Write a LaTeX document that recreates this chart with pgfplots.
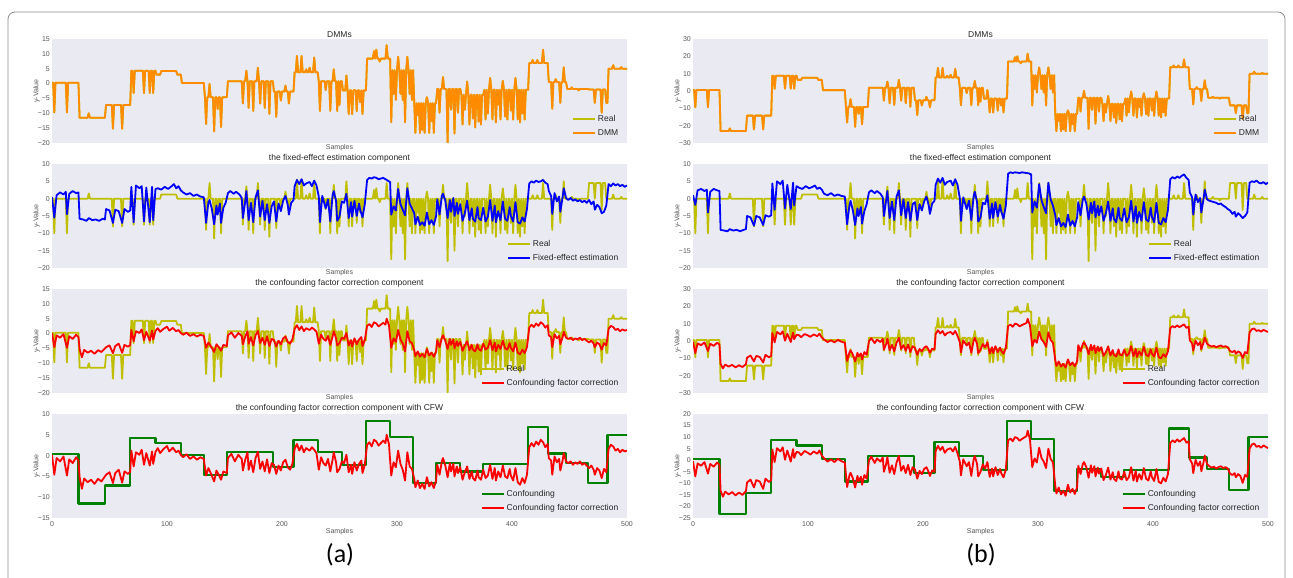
\documentclass[border=0pt]{standalone}
\usepackage{pgfplots}
\pgfplotsset{compat=1.18}
\usepackage{pgfplotstable}
\usepackage{fontspec}
\setmainfont{Liberation Sans}
\newfontfamily\capfont{Carlito}
\definecolor{bgc}{HTML}{EAEAF2}
\definecolor{realc}{HTML}{BFBF00}
\definecolor{dmmc}{HTML}{FF8C00}
\definecolor{confc}{HTML}{008000}
\definecolor{txtc}{HTML}{262626}
\definecolor{tickc}{HTML}{555555}

\pgfplotstableread[row sep=\\]{x y\\
0 0\\1 0\\2 -10\\3 0\\12 0\\13 -10\\14 0\\31 0\\32 1.5\\33 0\\52 0\\53 -8\\54 0\\60 0\\61 -8\\62 0\\70 0\\71 -7.5\\72 0\\79 0\\80 -7.5\\81 0\\84 0\\85 -7.5\\86 0\\87 0\\88 -7.5\\89 0\\94 0\\95 1.2\\108 1.2\\109 0\\133 0\\134 -9\\135 0\\136 0\\137 4.5\\138 0\\140 0\\141 -11.5\\142 0\\143 0\\144 -4\\145 0\\146 0\\147 -10\\148 0\\165 0\\166 -7.5\\167 0\\168 0\\169 3.5\\170 0\\171 -9\\172 0\\174 0\\175 -10\\176 0\\178 0\\179 4.5\\180 0\\181 -7.5\\182 0\\184 0\\185 -9\\186 0\\188 0\\189 -11\\190 0\\194 0\\195 -8.5\\196 0\\198 0\\199 -3\\200 0\\202 0\\203 2\\204 0\\205 0\\206 -4\\207 0\\212 0\\213 5.5\\214 0\\216 0\\217 5.5\\218 0\\220 0\\221 1\\222 0\\223 0\\224 1.5\\225 0\\227 0\\228 5\\229 0\\232 0\\233 -10\\234 0\\237 0\\238 -3\\239 0\\241 0\\242 -10\\243 0\\244 0\\245 4\\246 0\\247 0\\248 -10\\249 0\\250 -8\\251 0\\255 0\\256 5\\257 0\\258 -8\\259 0\\260 0\\261 -8\\262 0\\264 0\\265 -7\\266 0\\267 0\\268 -4\\269 0\\270 -8\\271 0\\279 0\\280 2.5\\281 0\\282 3\\283 0\\284 0\\285 -1\\286 0\\290 0\\291 4.5\\292 0\\294 0\\295 -17.5\\296 0\\297 -8\\298 0\\299 -10\\300 0\\301 4.5\\302 0\\303 -8\\304 0\\305 -10\\306 0\\307 -17.5\\308 0\\309 4.5\\310 0\\311 -8\\312 0\\313 -10\\314 0\\315 0\\316 -10\\317 0\\318 -4\\319 0\\320 -10\\321 0\\322 -9\\323 0\\324 -10\\325 0\\326 2\\327 0\\328 -10\\329 0\\330 -6\\331 0\\332 -10\\333 0\\336 0\\337 -8\\338 0\\339 0\\340 4\\341 0\\343 0\\344 -18\\345 0\\346 0\\347 -7\\348 0\\349 0\\350 -15\\351 0\\352 0\\353 -8\\354 0\\356 0\\357 -10\\358 0\\359 -5\\360 0\\361 4.5\\362 0\\363 -10\\364 0\\365 0\\366 -8\\367 0\\368 -11\\369 0\\370 0\\371 -9\\372 0\\373 -10\\374 0\\376 0\\377 -10\\378 0\\379 -8\\380 0\\381 4\\382 0\\383 -10\\384 0\\385 0\\386 -11\\387 0\\388 -5\\389 0\\390 -10\\391 0\\392 3\\393 0\\394 -9\\395 0\\396 -10\\397 0\\398 0\\399 -7\\400 0\\401 -10\\402 0\\403 4\\404 0\\405 -10\\406 0\\407 -11\\408 0\\409 -8\\410 0\\411 -10\\412 0\\417 0\\418 1\\419 0\\421 0\\422 1\\423 0\\426 0\\427 4.5\\428 0\\434 0\\435 -9\\436 0\\437 0\\438 1\\439 0\\441 0\\442 -7\\443 0\\444 0\\445 5\\446 0\\451 0\\452 0.5\\453 0\\457 0\\458 -0.5\\459 0\\466 0\\467 4.5\\471 4.5\\472 0\\473 4.5\\477 4.5\\478 -3.3\\479 4.5\\481 4.5\\482 0\\487 0\\488 1.2\\489 0\\494 0\\495 0.5\\496 0\\500 0\\
}\tF

\pgfplotstableread[row sep=\\]{x y\\
0 0.3\\1 0.3\\2 -9.7\\3 0.3\\12 0.3\\13 -9.7\\14 0.3\\23 0.3\\
24 -11.5\\31 -11.5\\32 -10\\33 -11.5\\46 -11.5\\
47 -7.2\\52 -7.2\\53 -15.2\\54 -7.2\\60 -7.2\\61 -15.2\\62 -7.2\\68 -7.2\\
69 4.3\\70 4.3\\71 -3.2\\72 4.3\\79 4.3\\80 -3.2\\81 4.3\\84 4.3\\85 -3.2\\86 4.3\\87 4.3\\88 -3.2\\89 4.3\\90 4.3\\
91 3\\94 3\\95 4.2\\108 4.2\\109 3\\112 3\\
113 0.2\\132 0.2\\
133 -4.6\\134 -13.6\\135 -4.6\\136 -4.6\\137 -0.1\\138 -4.6\\140 -4.6\\141 -16.1\\142 -4.6\\143 -4.6\\144 -8.6\\145 -4.6\\146 -4.6\\147 -14.6\\148 -4.6\\152 -4.6\\
153 0.8\\165 0.8\\166 -6.7\\167 0.8\\168 0.8\\169 4.3\\170 0.8\\171 -8.2\\172 0.8\\174 0.8\\175 -9.2\\176 0.8\\178 0.8\\179 5.3\\180 0.8\\181 -6.7\\182 0.8\\184 0.8\\185 -8.2\\186 0.8\\188 0.8\\189 -10.2\\190 0.8\\192 0.8\\
193 -2.7\\194 -2.7\\195 -11.2\\196 -2.7\\198 -2.7\\199 -5.7\\200 -2.7\\202 -2.7\\203 -0.7\\204 -2.7\\205 -2.7\\206 -6.7\\207 -2.7\\210 -2.7\\
211 3.8\\212 3.8\\213 9.3\\214 3.8\\216 3.8\\217 9.3\\218 3.8\\220 3.8\\221 4.8\\222 3.8\\223 3.8\\224 5.3\\225 3.8\\227 3.8\\228 8.8\\229 3.8\\231 3.8\\
232 0.8\\233 -9.2\\234 0.8\\237 0.8\\238 -2.2\\239 0.8\\241 0.8\\242 -9.2\\243 0.8\\244 0.8\\245 4.8\\246 0.8\\247 0.8\\248 -9.2\\249 0.8\\250 -7.2\\251 0.8\\252 0.8\\
253 -2.3\\255 -2.3\\256 2.7\\257 -2.3\\258 -10.3\\259 -2.3\\260 -2.3\\261 -10.3\\262 -2.3\\264 -2.3\\265 -9.3\\266 -2.3\\267 -2.3\\268 -6.3\\269 -2.3\\270 -10.3\\271 -2.3\\273 -2.3\\
274 8.4\\279 8.4\\280 10.9\\281 8.4\\282 11.4\\283 8.4\\284 8.4\\285 7.4\\286 8.4\\290 8.4\\291 12.9\\292 8.4\\294 8.4\\
295 -13\\296 4.5\\297 -3.5\\298 4.5\\299 -5.5\\300 4.5\\301 9\\302 4.5\\303 -3.5\\304 4.5\\305 -5.5\\306 4.5\\307 -13\\308 4.5\\309 9\\310 4.5\\311 -3.5\\312 4.5\\313 -5.5\\314 4.5\\
315 -6.6\\316 -16.6\\317 -6.6\\318 -10.6\\319 -6.6\\320 -16.6\\321 -6.6\\322 -15.6\\323 -6.6\\324 -16.6\\325 -6.6\\326 -4.6\\327 -6.6\\328 -16.6\\329 -6.6\\330 -12.6\\331 -6.6\\332 -16.6\\333 -6.6\\334 -6.6\\
335 -1.8\\336 -1.8\\337 -9.8\\338 -1.8\\339 -1.8\\340 2.2\\341 -1.8\\343 -1.8\\344 -19.8\\345 -1.8\\346 -1.8\\347 -8.8\\348 -1.8\\349 -1.8\\350 -16.8\\351 -1.8\\352 -1.8\\353 -9.8\\354 -1.8\\355 -1.8\\
356 -3.8\\357 -13.8\\358 -3.8\\359 -8.8\\360 -3.8\\361 0.7\\362 -3.8\\363 -13.8\\364 -3.8\\365 -3.8\\366 -11.8\\367 -3.8\\368 -14.8\\369 -3.8\\370 -3.8\\371 -12.8\\372 -3.8\\373 -13.8\\374 -3.8\\375 -3.8\\
376 -2.1\\377 -12.1\\378 -2.1\\379 -10.1\\380 -2.1\\381 1.9\\382 -2.1\\383 -12.1\\384 -2.1\\385 -2.1\\386 -13.1\\387 -2.1\\388 -7.1\\389 -2.1\\390 -12.1\\391 -2.1\\392 0.9\\393 -2.1\\394 -11.1\\395 -2.1\\396 -12.1\\397 -2.1\\398 -2.1\\399 -9.1\\400 -2.1\\401 -12.1\\402 -2.1\\403 1.9\\404 -2.1\\405 -12.1\\406 -2.1\\407 -13.1\\408 -2.1\\409 -10.1\\410 -2.1\\411 -12.1\\412 -2.1\\414 -2.1\\
415 6.9\\417 6.9\\418 7.9\\419 6.9\\421 6.9\\422 7.9\\423 6.9\\426 6.9\\427 11.4\\428 6.9\\431 6.9\\
432 0.5\\434 0.5\\435 -8.5\\436 0.5\\437 0.5\\438 1.5\\439 0.5\\441 0.5\\442 -6.5\\443 0.5\\444 0.5\\445 5.5\\446 0.5\\447 0.5\\
448 -1.8\\451 -1.8\\452 -1.3\\453 -1.8\\457 -1.8\\458 -2.3\\459 -1.8\\466 -1.8\\
467 -2\\471 -2\\472 -6.5\\473 -2\\477 -2\\478 -9.8\\479 -2\\481 -2\\482 -6.5\\483 -6.5\\
484 5\\487 5\\488 6.2\\489 5\\494 5\\495 5.5\\496 5\\500 5\\
}\tRa

\pgfplotstableread[row sep=\\]{x y\\
0 0.6\\1 0.6\\2 -9.4\\3 0.6\\12 0.6\\13 -9.4\\14 0.6\\23 0.6\\
24 -23.1\\31 -23.1\\32 -21.6\\33 -23.1\\46 -23.1\\
47 -14.2\\52 -14.2\\53 -22.2\\54 -14.2\\60 -14.2\\61 -22.2\\62 -14.2\\68 -14.2\\
69 8.8\\70 8.8\\71 1.3\\72 8.8\\79 8.8\\80 1.3\\81 8.8\\84 8.8\\85 1.3\\86 8.8\\87 8.8\\88 1.3\\89 8.8\\90 8.8\\
91 6.4\\94 6.4\\95 7.6\\108 7.6\\109 6.4\\112 6.4\\
113 0.5\\132 0.5\\
133 -9.2\\134 -18.2\\135 -9.2\\136 -9.2\\137 -4.7\\138 -9.2\\140 -9.2\\141 -20.7\\142 -9.2\\143 -9.2\\144 -13.2\\145 -9.2\\146 -9.2\\147 -19.2\\148 -9.2\\152 -9.2\\
153 1.9\\165 1.9\\166 -5.6\\167 1.9\\168 1.9\\169 5.4\\170 1.9\\171 -7.1\\172 1.9\\174 1.9\\175 -8.1\\176 1.9\\178 1.9\\179 6.4\\180 1.9\\181 -5.6\\182 1.9\\184 1.9\\185 -7.1\\186 1.9\\188 1.9\\189 -9.1\\190 1.9\\192 1.9\\
193 -5.4\\194 -5.4\\195 -13.9\\196 -5.4\\198 -5.4\\199 -8.4\\200 -5.4\\202 -5.4\\203 -3.4\\204 -5.4\\205 -5.4\\206 -9.4\\207 -5.4\\210 -5.4\\
211 7.8\\212 7.8\\213 13.3\\214 7.8\\216 7.8\\217 13.3\\218 7.8\\220 7.8\\221 8.8\\222 7.8\\223 7.8\\224 9.3\\225 7.8\\227 7.8\\228 12.8\\229 7.8\\231 7.8\\
232 1.8\\233 -8.2\\234 1.8\\237 1.8\\238 -1.2\\239 1.8\\241 1.8\\242 -8.2\\243 1.8\\244 1.8\\245 5.8\\246 1.8\\247 1.8\\248 -8.2\\249 1.8\\250 -6.2\\251 1.8\\252 1.8\\
253 -4.4\\255 -4.4\\256 0.6\\257 -4.4\\258 -12.4\\259 -4.4\\260 -4.4\\261 -12.4\\262 -4.4\\264 -4.4\\265 -11.4\\266 -4.4\\267 -4.4\\268 -8.4\\269 -4.4\\270 -12.4\\271 -4.4\\273 -4.4\\
274 17\\279 17\\280 19.5\\281 17\\282 20\\283 17\\284 17\\285 16\\286 17\\290 17\\291 21.5\\292 17\\294 17\\
295 -8.4\\296 9.1\\297 1.1\\298 9.1\\299 -0.9\\300 9.1\\301 13.6\\302 9.1\\303 1.1\\304 9.1\\305 -0.9\\306 9.1\\307 -8.4\\308 9.1\\309 13.6\\310 9.1\\311 1.1\\312 9.1\\313 -0.9\\314 9.1\\
315 -13.2\\316 -23.2\\317 -13.2\\318 -17.2\\319 -13.2\\320 -23.2\\321 -13.2\\322 -22.2\\323 -13.2\\324 -23.2\\325 -13.2\\326 -11.2\\327 -13.2\\328 -23.2\\329 -13.2\\330 -19.2\\331 -13.2\\332 -23.2\\333 -13.2\\334 -13.2\\
335 -3.9\\336 -3.9\\337 -11.9\\338 -3.9\\339 -3.9\\340 0.1\\341 -3.9\\343 -3.9\\344 -21.9\\345 -3.9\\346 -3.9\\347 -10.9\\348 -3.9\\349 -3.9\\350 -18.9\\351 -3.9\\352 -3.9\\353 -11.9\\354 -3.9\\355 -3.9\\
356 -7.4\\357 -17.4\\358 -7.4\\359 -12.4\\360 -7.4\\361 -2.9\\362 -7.4\\363 -17.4\\364 -7.4\\365 -7.4\\366 -15.4\\367 -7.4\\368 -18.4\\369 -7.4\\370 -7.4\\371 -16.4\\372 -7.4\\373 -17.4\\374 -7.4\\375 -7.4\\
376 -4.3\\377 -14.3\\378 -4.3\\379 -12.3\\380 -4.3\\381 -0.3\\382 -4.3\\383 -14.3\\384 -4.3\\385 -4.3\\386 -15.3\\387 -4.3\\388 -9.3\\389 -4.3\\390 -14.3\\391 -4.3\\392 -1.3\\393 -4.3\\394 -13.3\\395 -4.3\\396 -14.3\\397 -4.3\\398 -4.3\\399 -11.3\\400 -4.3\\401 -14.3\\402 -4.3\\403 -0.3\\404 -4.3\\405 -14.3\\406 -4.3\\407 -15.3\\408 -4.3\\409 -12.3\\410 -4.3\\411 -14.3\\412 -4.3\\414 -4.3\\
415 13.7\\417 13.7\\418 14.7\\419 13.7\\421 13.7\\422 14.7\\423 13.7\\426 13.7\\427 18.2\\428 13.7\\431 13.7\\
432 1.2\\434 1.2\\435 -7.8\\436 1.2\\437 1.2\\438 2.2\\439 1.2\\441 1.2\\442 -5.8\\443 1.2\\444 1.2\\445 6.2\\446 1.2\\447 1.2\\
448 -3.9\\451 -3.9\\452 -3.4\\453 -3.9\\457 -3.9\\458 -4.4\\459 -3.9\\466 -3.9\\
467 -8.3\\471 -8.3\\472 -12.8\\473 -8.3\\477 -8.3\\478 -16.1\\479 -8.3\\481 -8.3\\482 -12.8\\483 -12.8\\
484 9.9\\487 9.9\\488 11.1\\489 9.9\\494 9.9\\495 10.4\\496 9.9\\500 9.9\\
}\tRb

\pgfplotstableread[row sep=\\]{x y\\
0 0.3\\23 0.3\\23 -11.5\\46 -11.5\\46 -7.2\\68 -7.2\\68 4.3\\90 4.3\\90 3.0\\112 3.0\\112 0.2\\132 0.2\\132 -4.6\\152 -4.6\\152 0.8\\192 0.8\\192 -2.7\\210 -2.7\\210 3.8\\231 3.8\\231 0.8\\252 0.8\\252 -2.3\\273 -2.3\\273 8.4\\294 8.4\\294 4.5\\314 4.5\\314 -6.6\\334 -6.6\\334 -1.8\\355 -1.8\\355 -3.8\\375 -3.8\\375 -2.1\\414 -2.1\\414 6.9\\431 6.9\\431 0.5\\447 0.5\\447 -1.8\\466 -1.8\\466 -6.5\\483 -6.5\\483 5.0\\500 5.0\\
}\tCa

\pgfplotstableread[row sep=\\]{x y\\
0 0.6\\23 0.6\\23 -23.1\\46 -23.1\\46 -14.2\\68 -14.2\\68 8.8\\90 8.8\\90 6.4\\112 6.4\\112 0.5\\132 0.5\\132 -9.2\\152 -9.2\\152 1.9\\192 1.9\\192 -5.4\\210 -5.4\\210 7.8\\231 7.8\\231 1.8\\252 1.8\\252 -4.4\\273 -4.4\\273 17.0\\294 17.0\\294 9.1\\314 9.1\\314 -13.2\\334 -13.2\\334 -3.9\\355 -3.9\\355 -7.4\\375 -7.4\\375 -4.3\\414 -4.3\\414 13.7\\431 13.7\\431 1.2\\447 1.2\\447 -3.9\\466 -3.9\\466 -12.8\\483 -12.8\\483 9.9\\500 9.9\\
}\tCb

\pgfplotstableread[row sep=\\]{x y\\
0 0.2\\2 -4.6\\4 -0.6\\7 -1.4\\10 -0.2\\13 -4.8\\15 -0.9\\18 -1.8\\21 -0.4\\23 -1.2\\
24 -5.2\\26 -8.0\\28 -5.5\\31 -6.4\\34 -5.8\\37 -6.8\\40 -5.6\\43 -6.2\\46 -5.0\\
47 -4.6\\50 -4.0\\53 -6.6\\55 -4.2\\58 -3.4\\61 -6.5\\63 -3.8\\66 -4.4\\68 -3.9\\
69 1.2\\71 -2.6\\73 0.8\\76 0.2\\78 1.4\\80 -2.2\\82 0.6\\85 -2.4\\87 1.0\\88 -2.0\\90 0.9\\
92 1.8\\94 0.6\\97 1.6\\100 2.3\\102 1.0\\105 1.9\\108 0.8\\110 1.2\\112 0.2\\
114 -0.4\\117 0.3\\120 -0.8\\123 -0.2\\126 -1.0\\129 -0.4\\132 -0.8\\
134 -4.8\\136 -3.0\\138 -4.2\\141 -6.2\\143 -3.6\\145 -4.6\\147 -5.8\\149 -3.8\\152 -4.2\\
153 -0.6\\156 0.4\\159 -1.4\\162 0.2\\165 -0.8\\166 -3.6\\168 -1.0\\170 0.8\\171 -3.4\\173 -1.2\\175 -4.0\\177 -0.6\\179 0.9\\181 -3.2\\183 -1.4\\185 -3.8\\187 -0.9\\189 -4.2\\191 -1.8\\
193 -2.2\\195 -4.4\\197 -2.4\\199 -3.6\\201 -1.6\\203 -1.0\\205 -2.8\\207 -3.4\\209 -2.0\\
211 1.6\\213 2.8\\215 1.2\\217 2.4\\219 0.8\\221 1.8\\224 1.2\\226 2.0\\228 1.4\\230 0.6\\
232 -3.4\\234 -0.4\\236 -1.8\\238 -2.4\\240 -0.8\\242 -3.8\\244 -1.0\\245 0.8\\247 -1.6\\248 -4.0\\250 -3.2\\252 -1.4\\
254 -1.8\\256 0.2\\258 -4.0\\260 -2.2\\261 -4.4\\263 -1.6\\265 -3.6\\267 -2.0\\269 -1.2\\270 -4.2\\272 -2.2\\
274 2.6\\276 3.2\\278 2.2\\280 3.8\\282 3.4\\284 2.4\\286 3.0\\288 3.6\\290 3.0\\291 5.0\\293 2.8\\
295 -4.8\\297 -1.6\\299 -2.8\\301 1.2\\303 -2.0\\305 -3.4\\307 -6.0\\309 0.8\\311 -2.6\\313 -3.2\\
315 -5.6\\316 -7.6\\318 -6.0\\320 -7.8\\322 -6.8\\324 -8.0\\326 -5.2\\328 -7.4\\330 -6.4\\332 -7.8\\334 -6.0\\
335 -2.2\\337 -4.6\\339 -1.4\\340 -0.6\\342 -2.4\\344 -5.2\\346 -1.8\\347 -3.8\\349 -2.0\\350 -5.0\\352 -2.6\\353 -4.2\\355 -2.8\\
357 -5.8\\359 -4.0\\361 -2.6\\363 -5.6\\365 -3.8\\366 -5.4\\368 -6.0\\370 -3.6\\371 -5.2\\373 -5.8\\375 -3.4\\
377 -5.4\\379 -4.8\\381 -2.2\\383 -5.6\\385 -3.0\\386 -6.0\\388 -3.8\\390 -5.2\\392 -2.4\\394 -5.0\\396 -5.4\\398 -3.2\\399 -4.8\\401 -6.0\\403 -3.0\\405 -6.4\\407 -7.0\\409 -5.4\\411 -6.6\\413 -4.6\\
415 2.0\\417 3.0\\419 2.2\\421 3.4\\423 2.6\\425 3.8\\427 3.2\\429 2.0\\431 2.8\\
432 -0.6\\434 -1.2\\435 -4.6\\437 -0.2\\439 -1.6\\441 -0.8\\442 -3.6\\444 -1.2\\445 0.6\\447 -1.4\\
449 -1.8\\451 -1.4\\453 -2.2\\455 -1.6\\457 -2.0\\459 -1.4\\461 -2.2\\463 -1.8\\465 -2.4\\
467 -3.0\\469 -2.4\\471 -3.4\\472 -4.6\\474 -3.0\\476 -3.6\\478 -5.4\\480 -3.2\\482 -4.0\\
484 1.6\\486 2.6\\488 2.2\\490 1.2\\492 1.6\\494 0.8\\496 1.4\\498 1.0\\500 1.2\\
}\tREDa

\pgfplotstableread[row sep=\\]{x y\\
0 -0.4\\2 -7.0\\4 -1.4\\7 -2.4\\10 -0.8\\13 -5.8\\15 -1.6\\18 -2.8\\21 -1.0\\23 -2.0\\
24 -13.2\\26 -15.8\\28 -13.6\\31 -14.8\\34 -13.8\\37 -15.2\\40 -14.0\\43 -15.0\\46 -13.4\\
47 -9.6\\50 -8.4\\53 -11.8\\55 -8.6\\58 -9.2\\61 -12.4\\63 -8.0\\66 -9.4\\68 -8.6\\
69 4.6\\71 -0.8\\73 5.2\\76 3.8\\78 5.6\\80 0.2\\82 4.2\\85 -0.6\\87 4.8\\88 1.0\\90 3.6\\
92 3.4\\94 2.2\\97 4.0\\100 3.2\\102 2.4\\105 3.8\\108 2.8\\110 4.2\\112 2.0\\
114 0.8\\117 -0.6\\120 0.4\\123 -0.8\\126 0.6\\129 -0.4\\132 -1.0\\
134 -11.6\\136 -6.6\\137 -5.4\\139 -7.8\\141 -11.8\\143 -6.8\\144 -9.0\\146 -7.2\\147 -10.6\\149 -6.4\\151 -8.0\\
153 -0.2\\155 1.6\\158 -1.2\\160 0.8\\163 -0.6\\165 1.2\\166 -5.0\\168 -1.6\\169 1.4\\171 -5.4\\173 -2.2\\175 -6.0\\177 -1.0\\179 1.8\\181 -4.6\\183 -2.4\\185 -5.6\\187 -2.0\\189 -6.4\\191 -3.0\\
193 -4.0\\195 -8.0\\197 -4.6\\199 -6.0\\201 -3.8\\203 -3.0\\205 -5.2\\206 -6.8\\208 -4.4\\210 -5.0\\
211 4.0\\213 6.2\\215 4.4\\217 5.8\\219 3.2\\221 4.6\\224 5.2\\226 3.8\\228 5.8\\230 3.0\\
232 -0.6\\233 -6.6\\235 0.4\\238 -2.6\\240 -0.8\\242 -6.8\\244 0.2\\245 1.8\\247 -1.6\\248 -7.0\\250 -5.0\\252 -1.8\\
254 -3.6\\256 -0.8\\258 -7.2\\260 -3.6\\261 -7.0\\263 -3.0\\265 -6.4\\267 -3.8\\268 -5.6\\270 -7.4\\272 -4.0\\
274 8.6\\276 9.4\\278 8.2\\280 10.0\\282 9.6\\284 8.4\\286 9.2\\288 9.8\\290 10.4\\291 12.8\\293 9.0\\
295 -3.0\\297 0.8\\299 -1.0\\301 5.4\\303 1.0\\305 -0.6\\307 -3.4\\309 5.0\\311 0.6\\313 -1.0\\
315 -11.0\\316 -14.4\\318 -11.8\\320 -14.8\\322 -13.2\\324 -15.4\\326 -10.6\\328 -14.0\\330 -12.4\\332 -14.6\\334 -11.6\\
335 -2.4\\337 -6.0\\339 -1.6\\340 -0.8\\342 -3.0\\344 -7.6\\346 -2.2\\347 -5.4\\349 -2.6\\350 -7.0\\352 -3.2\\353 -5.8\\355 -3.6\\
357 -8.6\\359 -6.4\\361 -3.2\\363 -8.4\\365 -5.2\\366 -8.0\\368 -9.0\\370 -4.8\\371 -7.8\\373 -8.4\\375 -5.0\\
377 -8.6\\379 -7.4\\381 -3.0\\383 -8.8\\385 -4.6\\386 -9.2\\388 -6.0\\390 -8.4\\392 -3.4\\394 -8.0\\396 -8.8\\398 -4.8\\399 -7.2\\401 -9.0\\403 -3.8\\405 -9.4\\407 -10.0\\409 -7.6\\411 -9.2\\413 -6.0\\
415 7.4\\417 8.6\\419 7.8\\421 9.0\\423 8.0\\425 8.8\\427 9.6\\429 7.6\\431 8.2\\
432 0.4\\434 -1.4\\435 -5.6\\437 0.2\\439 -2.4\\441 -0.6\\442 -4.8\\444 -0.8\\445 2.0\\447 -1.6\\
449 -2.6\\451 -3.2\\453 -2.8\\455 -3.6\\457 -3.0\\459 -2.6\\461 -3.4\\463 -3.0\\465 -3.6\\
467 -5.8\\469 -6.4\\471 -5.6\\472 -7.4\\474 -6.0\\476 -6.8\\478 -9.8\\480 -6.4\\482 -7.2\\
484 5.0\\486 6.8\\488 7.2\\490 5.8\\492 6.2\\494 5.4\\496 6.4\\498 5.8\\500 5.2\\
}\tREDb

\pgfplotstableread[row sep=\\]{x y\\
0 0.5\\2 -5.5\\4 1.0\\7 1.8\\10 1.2\\12 2.0\\13 -4.5\\15 1.4\\18 2.2\\21 1.6\\23 1.8\\
24 -5.8\\27 -6.0\\30 -6.4\\32 -5.6\\35 -6.2\\38 -6.0\\41 -6.4\\44 -5.8\\46 -6.0\\
47 -3.0\\50 -3.4\\53 -7.0\\55 -3.2\\58 -3.6\\61 -7.0\\63 -3.0\\66 -3.8\\68 -3.4\\
69 3.4\\71 -6.8\\73 3.8\\76 3.0\\78 3.6\\80 -6.6\\82 3.2\\85 -6.8\\87 3.4\\88 -6.2\\90 2.8\\
92 3.0\\95 2.6\\98 3.4\\101 2.8\\104 3.6\\106 4.2\\108 3.0\\110 3.6\\112 2.4\\
114 1.8\\117 1.2\\120 1.6\\123 0.8\\126 1.2\\129 0.6\\132 0.4\\
134 -7.0\\136 -1.0\\137 -0.4\\139 -3.0\\141 -7.4\\143 -2.0\\144 -4.6\\146 -1.4\\147 -7.0\\149 -2.6\\151 -1.2\\
153 1.6\\155 2.2\\158 1.4\\160 2.0\\163 1.2\\165 0.2\\166 -5.6\\168 -0.8\\169 2.2\\171 -6.2\\173 -1.2\\175 -6.8\\177 0.4\\179 2.4\\181 -5.2\\183 -0.6\\185 -6.2\\187 -1.6\\189 -7.0\\191 -2.2\\
193 -0.8\\195 -6.6\\197 -1.4\\199 -3.6\\201 -0.6\\203 0.8\\205 -1.8\\206 -4.6\\208 -1.2\\210 -0.4\\
211 3.6\\213 5.4\\215 4.2\\217 5.6\\219 3.8\\221 4.4\\224 4.8\\226 3.6\\228 5.2\\230 3.8\\
232 0.6\\233 -6.8\\235 0.8\\238 -2.8\\240 -0.2\\242 -6.6\\244 1.0\\245 2.2\\247 -0.6\\248 -6.4\\250 -5.2\\252 -0.8\\
254 -1.2\\256 1.4\\258 -5.6\\260 -1.0\\261 -5.2\\263 -0.6\\265 -5.0\\267 -1.4\\268 -3.2\\270 -5.4\\272 -1.6\\
274 5.4\\276 6.0\\278 5.8\\280 6.2\\282 6.0\\284 5.6\\286 5.8\\288 6.0\\290 5.6\\292 5.2\\294 4.8\\
295 -4.6\\297 -2.2\\299 -3.4\\301 2.8\\303 -1.6\\305 -3.2\\307 -4.8\\309 3.0\\311 -1.4\\313 -2.8\\
315 -4.2\\316 -7.4\\318 -5.2\\320 -7.6\\322 -6.8\\324 -7.8\\326 -4.0\\328 -7.4\\330 -6.2\\332 -7.6\\334 -5.0\\
335 -0.2\\337 -4.6\\339 0.8\\340 1.4\\342 -0.6\\344 -5.6\\346 -0.4\\347 -3.8\\349 0.2\\350 -5.0\\352 -1.2\\353 -4.4\\355 -1.6\\
357 -6.4\\359 -4.2\\361 -0.6\\363 -6.2\\365 -2.8\\366 -5.8\\368 -6.6\\370 -2.4\\371 -5.6\\373 -6.2\\375 -2.6\\
377 -6.6\\379 -5.2\\381 -0.4\\383 -6.4\\385 -2.0\\386 -6.8\\388 -3.6\\390 -6.2\\392 -0.8\\394 -5.8\\396 -6.4\\398 -2.4\\399 -5.0\\401 -6.6\\403 -1.0\\405 -6.8\\407 -7.2\\409 -5.4\\411 -6.6\\413 -3.0\\
415 4.4\\417 5.0\\419 4.6\\421 5.2\\423 4.8\\425 5.0\\427 5.4\\429 4.6\\431 4.2\\
432 2.2\\434 0.8\\435 -4.4\\437 1.6\\439 -0.8\\441 0.6\\442 -3.8\\444 0.4\\445 3.0\\447 0.2\\
449 -0.4\\451 0.2\\453 -0.6\\455 -0.2\\457 -0.8\\459 -0.4\\461 -1.0\\463 -0.6\\465 -1.2\\
467 -0.4\\469 -1.6\\471 -0.8\\472 -3.2\\474 -1.8\\476 -2.4\\478 -4.2\\480 -3.8\\482 -2.0\\
484 4.2\\486 3.6\\488 4.4\\490 3.8\\492 4.2\\494 3.6\\496 4.0\\498 3.4\\500 3.8\\
}\tBLa

\pgfplotstableread[row sep=\\]{x y\\
0 1.0\\2 -1.8\\4 2.4\\7 2.8\\10 2.2\\12 2.6\\13 -4.0\\15 2.0\\18 2.8\\21 2.4\\23 2.2\\
24 -9.0\\27 -9.2\\30 -9.4\\32 -8.8\\35 -9.2\\38 -9.0\\41 -9.4\\44 -9.0\\46 -8.8\\
47 -5.0\\50 -5.4\\53 -7.8\\55 -5.0\\58 -5.4\\61 -7.6\\63 -4.8\\66 -5.2\\68 -4.8\\
69 4.4\\71 -3.2\\73 5.0\\76 4.2\\78 5.2\\80 -2.8\\82 4.0\\85 -3.0\\87 4.6\\88 -2.0\\90 3.6\\
92 3.2\\95 2.8\\98 3.6\\101 3.0\\104 3.4\\106 3.8\\108 2.8\\110 3.2\\112 2.6\\
114 1.4\\117 1.0\\120 1.6\\123 0.8\\126 1.2\\129 0.8\\132 0.6\\
134 -7.4\\136 -2.0\\137 -0.6\\139 -3.4\\141 -7.6\\143 -2.8\\144 -5.0\\146 -2.4\\147 -7.2\\149 -3.6\\151 -1.6\\
153 1.8\\155 2.4\\158 1.6\\160 2.2\\163 1.4\\165 0.4\\166 -5.0\\168 -0.4\\169 2.2\\171 -5.6\\173 -0.8\\175 -6.2\\177 0.6\\179 2.4\\181 -4.8\\183 -0.2\\185 -5.6\\187 -1.0\\189 -6.4\\191 -1.6\\
193 -1.0\\195 -6.2\\197 -1.6\\199 -3.4\\201 -0.8\\203 0.6\\205 -2.0\\206 -4.4\\208 -1.4\\210 -0.6\\
211 4.0\\213 5.8\\215 4.6\\217 6.0\\219 4.0\\221 4.8\\224 5.2\\226 3.8\\228 5.6\\230 4.0\\
232 0.2\\233 -6.4\\235 0.4\\238 -3.0\\240 -0.6\\242 -6.2\\244 0.6\\245 2.0\\247 -1.0\\248 -6.6\\250 -5.4\\252 -1.2\\
254 -1.6\\256 1.0\\258 -5.8\\260 -1.4\\261 -5.6\\263 -1.0\\265 -5.2\\267 -1.8\\268 -3.6\\270 -5.8\\272 -2.0\\
274 7.2\\276 7.6\\278 7.4\\280 7.6\\282 7.5\\284 7.4\\286 7.6\\288 7.5\\290 7.4\\292 7.3\\294 7.0\\
295 -4.0\\297 -0.8\\299 -2.6\\301 4.2\\303 -0.4\\305 -2.4\\307 -4.2\\309 4.6\\311 -0.2\\313 -2.0\\
315 -4.8\\316 -7.6\\318 -5.6\\320 -8.0\\322 -7.0\\324 -8.2\\326 -4.6\\328 -7.8\\330 -6.4\\332 -8.0\\334 -5.4\\
335 -1.0\\337 -4.8\\339 -0.2\\340 0.6\\342 -1.4\\344 -6.0\\346 -1.2\\347 -4.2\\349 -0.8\\350 -5.4\\352 -2.0\\353 -4.8\\355 -2.2\\
357 -6.4\\359 -4.2\\361 -0.8\\363 -6.4\\365 -2.8\\366 -5.8\\368 -6.8\\370 -2.6\\371 -5.6\\373 -6.4\\375 -2.8\\
377 -6.8\\379 -5.4\\381 -0.6\\383 -6.6\\385 -2.2\\386 -7.0\\388 -3.8\\390 -6.4\\392 -1.0\\394 -6.0\\396 -6.6\\398 -2.6\\399 -5.2\\401 -6.8\\403 -1.2\\405 -7.0\\407 -7.4\\409 -5.6\\411 -6.8\\413 -3.2\\
415 5.6\\417 6.2\\419 5.8\\421 6.4\\423 6.0\\425 6.6\\427 7.0\\429 6.0\\431 5.4\\
432 1.8\\434 0.4\\435 -4.6\\437 1.2\\439 -1.0\\441 0.2\\442 -4.0\\444 0.0\\445 2.6\\447 -0.2\\
449 -0.6\\451 -0.8\\453 -1.0\\455 -1.2\\457 -1.6\\459 -1.4\\461 -2.0\\463 -2.4\\465 -3.0\\
467 -3.4\\469 -4.4\\471 -3.8\\472 -5.2\\474 -4.2\\476 -4.8\\478 -5.6\\480 -5.0\\482 -4.0\\
484 4.6\\486 5.0\\488 4.8\\490 5.2\\492 4.6\\494 4.4\\496 4.8\\498 4.2\\500 4.6\\
}\tBLb

\pgfplotsset{
  panel/.style={
    scale only axis, width=575pt, height=104pt,
    anchor=north west,
    xmin=0, xmax=500,
    axis background/.style={fill=bgc},
    axis line style={draw=none},
    major tick length=0pt,
    tick style={draw=none},
    xtick=\empty,
    title style={font=\fontsize{8.5}{10}\selectfont, text=txtc, at={(0.5,1)}, anchor=south, inner sep=1.5pt, yshift=-6pt},
    ylabel={y-Value}, xlabel={Samples},
    ylabel style={at={(axis description cs:-0.0191,0.5)}, anchor=south, inner sep=1pt},
    xlabel style={at={(axis description cs:0.5,0)}, anchor=north, inner sep=1.5pt},
    label style={font=\fontsize{7}{8}\selectfont, text=tickc},
    ticklabel style={font=\fontsize{7}{8}\selectfont, text=tickc},
    yticklabel style={inner sep=2pt},
    legend style={at={(0.99,0.03)}, anchor=south east, draw=none, fill=none,
      font=\fontsize{8.5}{10}\selectfont, text=txtc, row sep=3pt, inner sep=1pt,
      nodes={inner sep=1.8pt}},
    legend cell align=left,
    legend image code/.code={\draw[#1] (0pt,0pt) -- (22pt,0pt);},
    every axis plot/.append style={line width=1.8pt, line join=round, no markers},
  },
  bottomrow/.style={
    xtick={0,100,200,300,400,500},
    xticklabels={0,100,200,300,400,500},
    xlabel style={yshift=-9pt},
  },
}

\begin{document}
\begin{tikzpicture}
\useasboundingbox (0pt,0pt) rectangle (1293pt,578pt);
\draw[line width=0.8pt, black!45, rounded corners=7pt] (8pt,-2pt) -- (8pt,566pt) -- (1285pt,566pt) -- (1285pt,-2pt);

% ---------- (a) ----------
\begin{axis}[panel, at={(52pt,539pt)}, title={DMMs},
  ymin=-20, ymax=15, ytick={-20,-15,-10,-5,0,5,10,15},
  yticklabels={−20,−15,−10,−5,0,5,10,15}]
\addplot[realc] table[x=x,y=y] {\tRa}; \addlegendentry{Real}
\addplot[dmmc] table[x=x,y=y] {\tRa}; \addlegendentry{DMM}
\end{axis}

\begin{axis}[panel, at={(52pt,414pt)}, title={the fixed-effect estimation component},
  ymin=-20, ymax=10, ytick={-20,-15,-10,-5,0,5,10},
  yticklabels={−20,−15,−10,−5,0,5,10}]
\addplot[realc] table[x=x,y=y] {\tF}; \addlegendentry{Real}
\addplot[blue] table[x=x,y=y] {\tBLa}; \addlegendentry{Fixed-effect estimation}
\end{axis}

\begin{axis}[panel, at={(52pt,289pt)}, title={the confounding factor correction component},
  ymin=-20, ymax=15, ytick={-20,-15,-10,-5,0,5,10,15},
  yticklabels={−20,−15,−10,−5,0,5,10,15}]
\addplot[realc] table[x=x,y=y] {\tRa}; \addlegendentry{Real}
\addplot[red] table[x=x,y=y] {\tREDa}; \addlegendentry{Confounding factor correction}
\end{axis}

\begin{axis}[panel, bottomrow, at={(52pt,164pt)}, title={the confounding factor correction component with CFW},
  ymin=-15, ymax=10, ytick={-15,-10,-5,0,5,10},
  yticklabels={−15,−10,−5,0,5,10}]
\addplot[confc, line width=2.2pt] table[x=x,y=y] {\tCa}; \addlegendentry{Confounding}
\addplot[red] table[x=x,y=y] {\tREDa}; \addlegendentry{Confounding factor correction}
\end{axis}

% ---------- (b) ----------
\begin{axis}[panel, at={(693pt,539pt)}, title={DMMs},
  ymin=-30, ymax=30, ytick={-30,-20,-10,0,10,20,30},
  yticklabels={−30,−20,−10,0,10,20,30}]
\addplot[realc] table[x=x,y=y] {\tRb}; \addlegendentry{Real}
\addplot[dmmc] table[x=x,y=y] {\tRb}; \addlegendentry{DMM}
\end{axis}

\begin{axis}[panel, at={(693pt,414pt)}, title={the fixed-effect estimation component},
  ymin=-20, ymax=10, ytick={-20,-15,-10,-5,0,5,10},
  yticklabels={−20,−15,−10,−5,0,5,10}]
\addplot[realc] table[x=x,y=y] {\tF}; \addlegendentry{Real}
\addplot[blue] table[x=x,y=y] {\tBLb}; \addlegendentry{Fixed-effect estimation}
\end{axis}

\begin{axis}[panel, at={(693pt,289pt)}, title={the confounding factor correction component},
  ymin=-30, ymax=30, ytick={-30,-20,-10,0,10,20,30},
  yticklabels={−30,−20,−10,0,10,20,30}]
\addplot[realc] table[x=x,y=y] {\tRb}; \addlegendentry{Real}
\addplot[red] table[x=x,y=y] {\tREDb}; \addlegendentry{Confounding factor correction}
\end{axis}

\begin{axis}[panel, bottomrow, at={(693pt,164pt)}, title={the confounding factor correction component with CFW},
  ymin=-25, ymax=20, ytick={-25,-20,-15,-10,-5,0,5,10,15,20},
  yticklabels={−25,−20,−15,−10,−5,0,5,10,15,20}]
\addplot[confc, line width=2.2pt] table[x=x,y=y] {\tCb}; \addlegendentry{Confounding}
\addplot[red] table[x=x,y=y] {\tREDb}; \addlegendentry{Confounding factor correction}
\end{axis}

\node[font=\capfont\fontsize{26}{30}\selectfont, text=black] at (340pt,23pt) {(a)};
\node[font=\capfont\fontsize{26}{30}\selectfont, text=black] at (981pt,23pt) {(b)};
\end{tikzpicture}
\end{document}
